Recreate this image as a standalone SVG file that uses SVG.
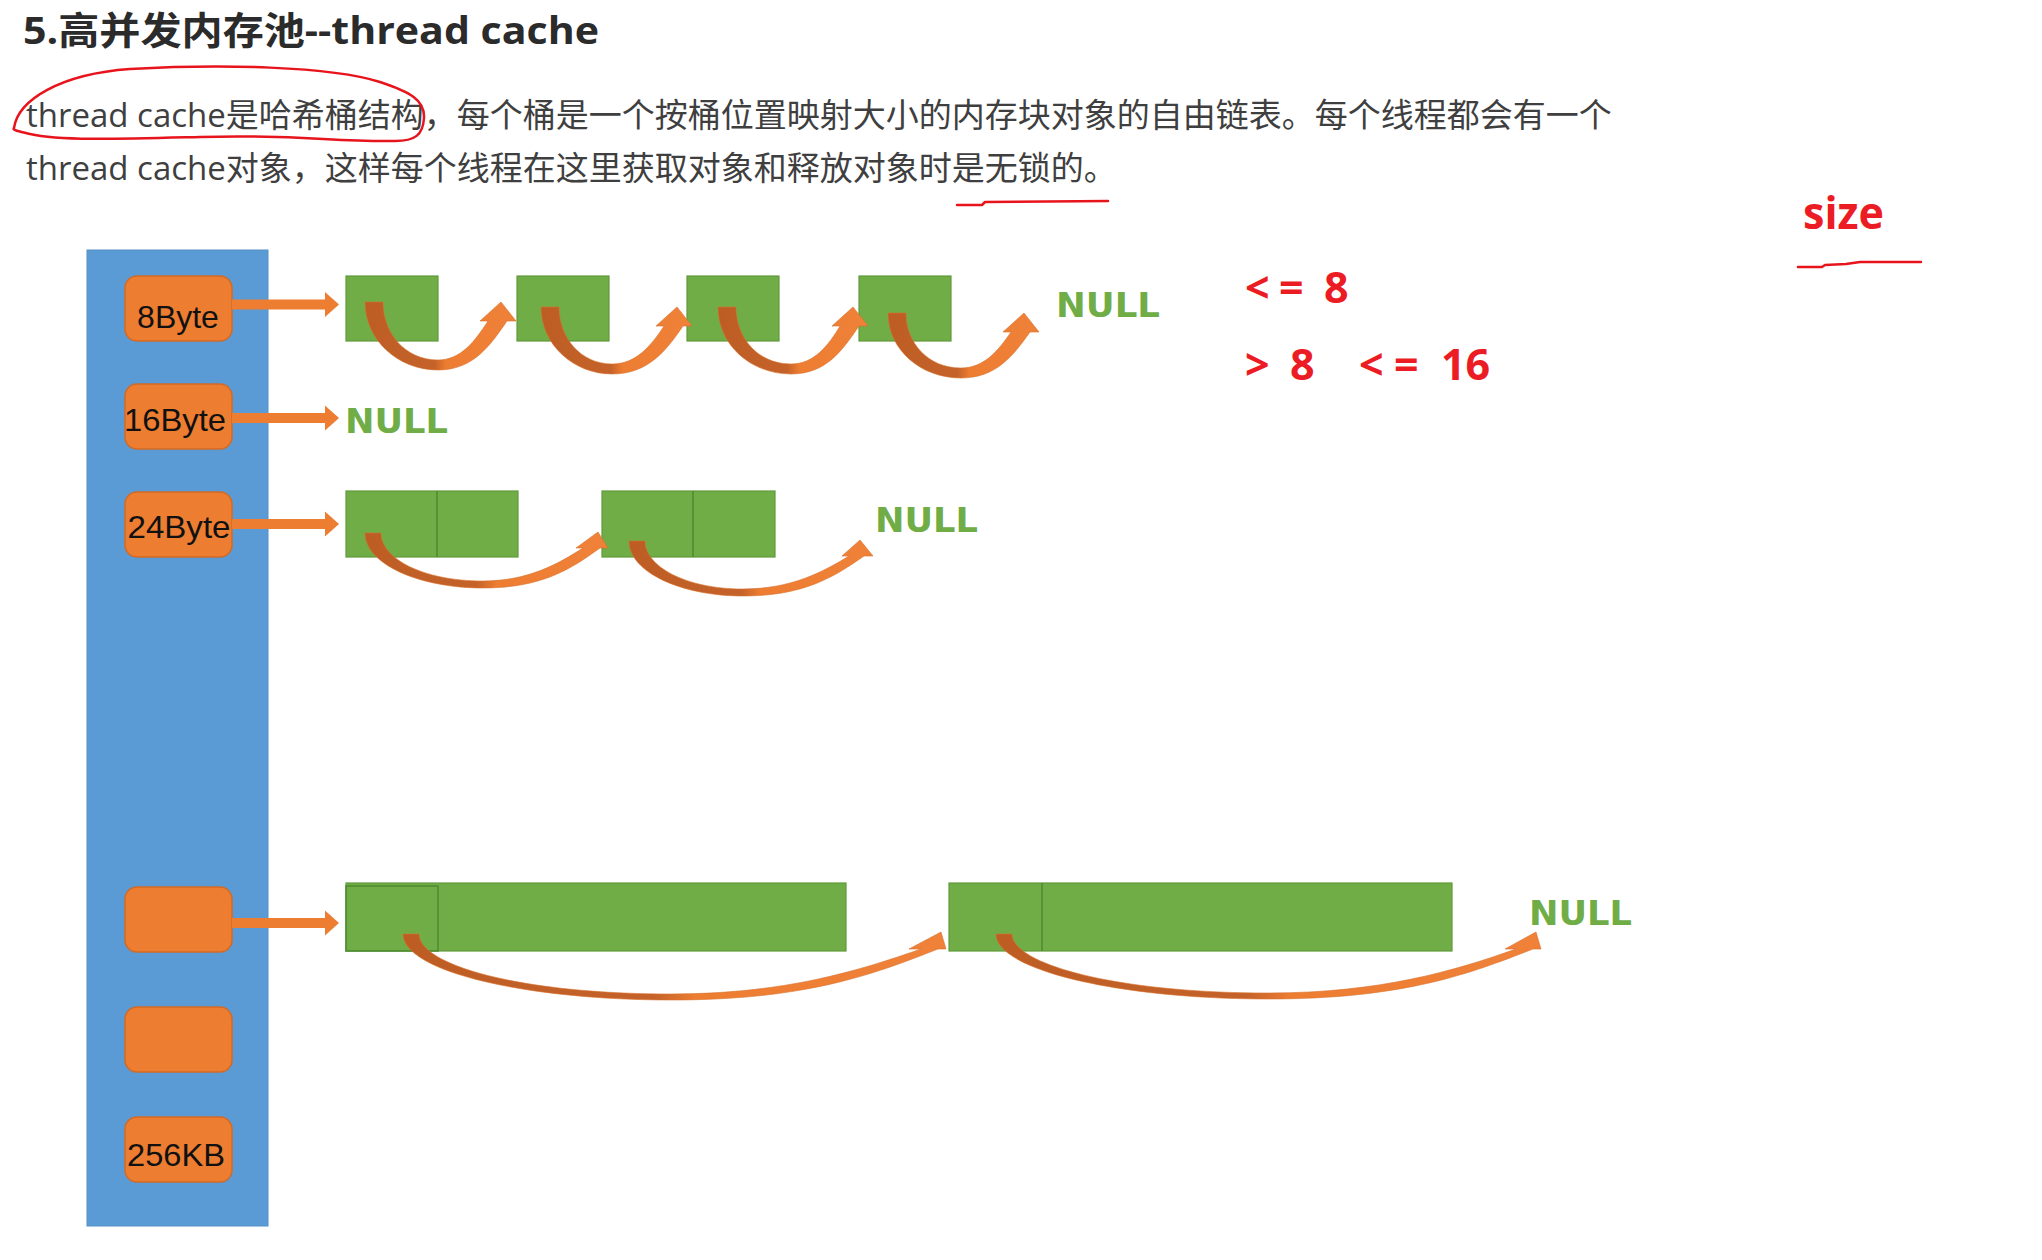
<svg xmlns="http://www.w3.org/2000/svg" width="2042" height="1260" viewBox="0 0 2042 1260">
<defs>
<linearGradient id="band" x1="0" y1="0" x2="1" y2="0">
<stop offset="0" stop-color="#bd5d24"/>
<stop offset="0.46" stop-color="#c4622a"/>
<stop offset="0.54" stop-color="#ed7d31"/>
<stop offset="1" stop-color="#ef8139"/>
</linearGradient>
<style>
.title{font-family:"Open Sans","Noto Sans CJK SC",sans-serif;font-weight:bold;font-size:38px;fill:#2b2b2b}
.body{font-family:"Open Sans","Noto Sans CJK SC",sans-serif;font-size:33px;fill:#3f3f3f}
.red{font-family:"Open Sans","Noto Sans CJK SC",sans-serif;font-weight:bold;fill:#ec1c24}
.mark{fill:none;stroke:#e8141c;stroke-width:2.5;stroke-linejoin:round;stroke-linecap:round}
.col{fill:#5b9bd5;stroke:#5590c8;stroke-width:1}
.bucket{fill:#ed7d31;stroke:#d26a25;stroke-width:1.5}
.lbl{font-family:"Liberation Sans",Arial,sans-serif;font-size:32px;fill:#111111}
.blk{fill:#70ad47;stroke:#5f9a3a;stroke-width:1.2}
.div{stroke:#4f8a30;stroke-width:1.5;fill:none}
.null{font-family:"DejaVu Sans",Verdana,sans-serif;font-weight:bold;font-size:34px;fill:#70ad47}
.ptr{fill:#ed7d31}
.curve{fill:url(#band);stroke:#d8702c;stroke-width:0.6}
</style>
</defs>
<rect x="0" y="0" width="2042" height="1260" fill="#ffffff"/>

<g id="header">
<text class="title" x="23" y="44" textLength="576" lengthAdjust="spacingAndGlyphs">5.高并发内存池--thread cache</text>
<text class="body" x="26" y="127">thread cache是哈希桶结构，每个桶是一个按桶位置映射大小的内存块对象的自由链表。每个线程都会有一个</text>
<text class="body" x="26" y="180">thread cache对象，这样每个线程在这里获取对象和释放对象时是无锁的。</text>
<path class="mark" d="M14,128 C18,100 60,74 130,69 C220,64 330,66 380,82 C410,92 425,100 424,118 C423,135 415,141 395,141 C330,142 300,134 200,137 C120,139 60,141 30,134 C18,131 12,130 14,128"/>
<path class="mark" d="M957,205 L982,205 L985,202 L1108,201"/>
</g>

<g id="size-notes">
<text class="red" x="1803" y="229" font-size="44" textLength="81" lengthAdjust="spacingAndGlyphs">size</text>
<path class="mark" stroke-width="3" d="M1798,267 L1822,267 L1825,265 L1846,264 L1860,262 L1921,262"/>
<text class="red" x="1245 1279 1303 1324" y="303" font-size="43">&lt;= 8</text>
<text class="red" x="1245 1270 1290" y="380" font-size="43">&gt; 8</text>
<text class="red" x="1359 1394 1418 1441" y="380" font-size="43">&lt;= 16</text>
</g>

<g id="hash-table">
<rect class="col" x="87" y="250" width="181" height="976"/>
</g>

<g id="bucket-8">
<rect class="bucket" x="125" y="276" width="107" height="65" rx="12"/>
<text class="lbl" x="178" y="328" text-anchor="middle">8Byte</text>
</g>
<g id="bucket-16">
<rect class="bucket" x="125" y="384" width="107" height="65" rx="12"/>
<text class="lbl" x="175" y="431" text-anchor="middle" textLength="102" lengthAdjust="spacingAndGlyphs">16Byte</text>
</g>
<g id="bucket-24">
<rect class="bucket" x="125" y="492" width="107" height="65" rx="12"/>
<text class="lbl" x="179" y="538" text-anchor="middle" textLength="103" lengthAdjust="spacingAndGlyphs">24Byte</text>
</g>
<g id="bucket-x1">
<rect class="bucket" x="125" y="887" width="107" height="65" rx="12"/>
</g>
<g id="bucket-x2">
<rect class="bucket" x="125" y="1007" width="107" height="65" rx="12"/>
</g>
<g id="bucket-256k">
<rect class="bucket" x="125" y="1117" width="107" height="65" rx="12"/>
<text class="lbl" x="176" y="1166" text-anchor="middle" textLength="98" lengthAdjust="spacingAndGlyphs">256KB</text>
</g>

<g id="list-8">
<rect class="blk" x="346" y="276" width="92" height="65"/>
<rect class="blk" x="517" y="276" width="92" height="65"/>
<rect class="blk" x="687" y="276" width="92" height="65"/>
<rect class="blk" x="859" y="276" width="92" height="65"/>
<text class="null" x="1056" y="317" textLength="104" lengthAdjust="spacingAndGlyphs">NULL</text>
</g>
<g id="list-16">
<text class="null" x="345" y="433" textLength="103" lengthAdjust="spacingAndGlyphs">NULL</text>
</g>
<g id="list-24">
<rect class="blk" x="346" y="491" width="172" height="66"/>
<line class="div" x1="437" y1="491" x2="437" y2="557"/>
<rect class="blk" x="602" y="491" width="173" height="66"/>
<line class="div" x1="693" y1="491" x2="693" y2="557"/>
<text class="null" x="875" y="532" textLength="103" lengthAdjust="spacingAndGlyphs">NULL</text>
</g>
<g id="list-large">
<rect class="blk" x="346" y="883" width="500" height="68"/>
<rect x="346" y="886" width="92" height="65" fill="none" stroke="#4f8a30" stroke-width="1.5"/>
<rect class="blk" x="949" y="883" width="503" height="68"/>
<line class="div" x1="1042" y1="883" x2="1042" y2="951"/>
<text class="null" x="1529" y="925" textLength="103" lengthAdjust="spacingAndGlyphs">NULL</text>
</g>

<g id="connectors">
<path class="ptr" d="M232,299.5 H325 V292 L339,304.5 L325,317 V309.5 H232 Z"/>
<path class="ptr" d="M232,413 H325 V405.5 L339,418 L325,430.5 V423 H232 Z"/>
<path class="ptr" d="M232,519 H325 V511.5 L339,524 L325,536.5 V529 H232 Z"/>
<path class="ptr" d="M232,918 H325 V910.5 L339,923 L325,935.5 V928 H232 Z"/>

<path class="curve" d="M365,302 C365,340 398,370 438,370 C473,370 490,346 507,321 L516,321 L501,302 L480,321 L488,321 C475,341 461,360 438,360 C405,360 383,333 383,302 Z"/>
<path class="curve" d="M541,307 C541,345 574,374 612,374 C648,374 666,351 683,326 L692,326 L677,307 L656,326 L664,326 C651,346 636,364 612,364 C581,364 559,338 559,307 Z"/>
<path class="curve" d="M718,307 C718,345 751,374 791,374 C826,374 842,351 859,326 L868,326 L853,307 L832,326 L840,326 C828,346 814,364 791,364 C758,364 736,338 736,307 Z"/>
<path class="curve" d="M888,313 C888,350 921,378 961,378 C996,378 1013,356 1030,332 L1039,332 L1024,313 L1003,332 L1011,332 C998,351 984,368 961,368 C928,368 906,343 906,313 Z"/>

<path class="curve" d="M365,533 C365,564 419,588 483,588 C542,588 571,569 600,548 L608,548 L598,532 L576,548 L583,548 C558,564 528,581 483,581 C422,581 381,558 381,533 Z"/>
<path class="curve" d="M629,541 C629,572 681,596 743,596 C804,596 834,577 864,556 L873,556 L860,540 L842,556 L849,556 C823,572 791,589 743,589 C685,589 645,566 645,541 Z"/>

<path class="curve" d="M403,934 C403,971 524,1000 671,1000 C805,1000 872,975 938,949 L946,949 L941,932 L909,949 L921,949 C858,971 784,994 671,994 C520,994 419,965 419,934 Z"/>
<path class="curve" d="M996,934 C996,970 1119,999 1268,999 C1401,999 1467,975 1533,949 L1541,949 L1536,932 L1505,949 L1516,949 C1454,971 1380,993 1268,993 C1115,993 1012,964 1012,934 Z"/>
</g>
</svg>
